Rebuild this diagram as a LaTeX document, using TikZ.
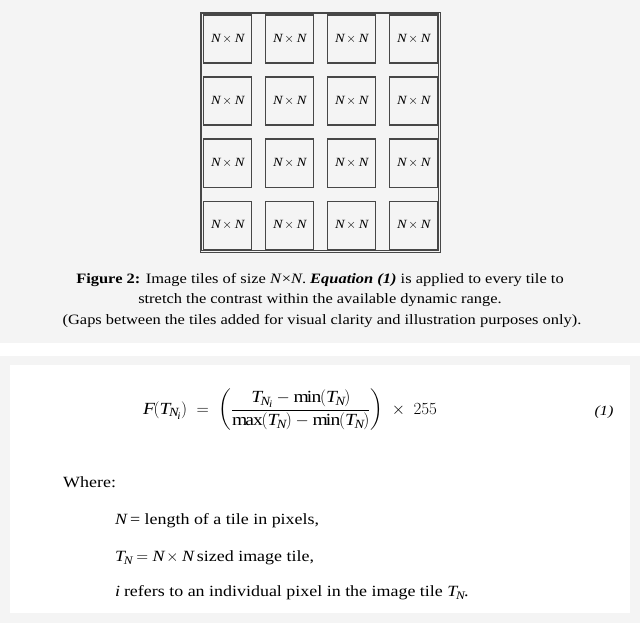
\RequirePackage{fix-cm}
\documentclass[tikz,border=0pt]{standalone}
\usepackage{amsmath}
\usepackage{fontspec}
\setmainfont[FakeStretch=1.15]{Liberation Serif}
\DeclareMathSizes{17}{17}{12.5}{10}
\DeclareMathSizes{15.6}{15.6}{11.5}{9}
\definecolor{panel}{HTML}{F4F4F4}
\definecolor{tileline}{HTML}{474747}
\newcommand{\vN}{\mathit{N}}
\newcommand{\vT}{\mathit{T}}
\begin{document}
\begin{tikzpicture}[x=1pt,y=-1pt,
  tilebox/.style={draw=tileline,line width=1.4pt,minimum width=48pt,minimum height=48pt,inner sep=0pt,anchor=north west,font=\fontsize{12.5}{15}\selectfont},
  captext/.style={font=\fontsize{14.3}{17}\selectfont,anchor=center,inner sep=0pt},
  bodytext/.style={font=\fontsize{15.6}{18}\selectfont,anchor=west,inner sep=0pt}]
\useasboundingbox (0,0) rectangle (640,623);
% panels
\fill[panel] (0,0) rectangle (640,343);
\fill[panel] (0,356) rectangle (640,623);
\fill[white] (10,365) rectangle (630,613);
% outer double box
\draw[tileline,line width=0.7pt] (200,12) rectangle (440,252);
\draw[tileline,line width=0.7pt] (201.8,13.8) rectangle (438.2,250.2);
% tiles
\foreach \r in {0,1,2,3}{
  \foreach \c in {0,1,2,3}{
    \node[tilebox] (t\r\c) at ({202.5+62*\c},{14.5+62*\r}) {$\vN\times\vN$};
  }
}
% caption
\node[captext] (cap1) at (320,280) {\textbf{Figure 2:} Image tiles of size \textit{N}×\textit{N}. \textbf{\textit{Equation (1)}} is applied to every tile to};
\node[captext] (cap2) at (320,300) {stretch the contrast within the available dynamic range.};
\node[captext] (cap3) at (322,321) {(Gaps between the tiles added for visual clarity and illustration purposes only).};
% equation
\node[anchor=west,inner sep=0pt,font=\fontsize{17}{20}\selectfont] (eq) at (143,410)
  {$\displaystyle \mathit{F}(\vT_{\vN_{\mathit{i}}})\;=\;\left(\frac{\vT_{\vN_{\mathit{i}}} - \min(\vT_{\vN})}{\max(\vT_{\vN}) - \min(\vT_{\vN})}\right)\;\times\; 255$};
\node[anchor=center,inner sep=0pt,font=\fontsize{14}{16}\selectfont\itshape] (eqnum) at (604,412) {(1)};
% where
\node[bodytext] (where) at (63,482) {Where:};
\node[bodytext] (w1) at (115,521) {$\vN$\ = length of a tile in pixels,};
\node[bodytext] (w2) at (115,558) {$\vT_{\vN} = \vN\times \vN$ sized image tile,};
\node[bodytext] (w3) at (115,593) {$\mathit{i}$ refers to an individual pixel in the image tile $\vT_{\vN}$.};
\end{tikzpicture}
\end{document}
